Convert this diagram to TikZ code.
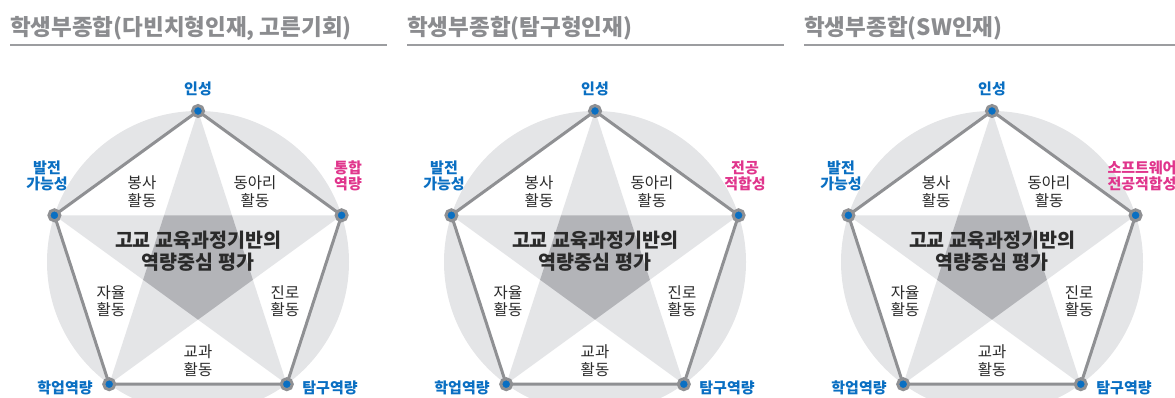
\documentclass[tikz,border=0pt]{standalone}
\usepackage{fontspec}
\setmainfont{Noto Sans CJK KR}
\definecolor{titlegray}{HTML}{8B8C8F}
\definecolor{rulegray}{HTML}{9C9DA0}
\definecolor{ringgray}{HTML}{E4E5E7}
\definecolor{coregray}{HTML}{B3B4B8}
\definecolor{edgegray}{HTML}{8F9093}
\definecolor{dotblue}{HTML}{0A6FC2}
\definecolor{labelpink}{HTML}{E0358C}
\definecolor{textdark}{HTML}{2A2A2A}
\tikzset{
  PanelTitle/.style={anchor=west, inner sep=0pt, text=titlegray, font=\fontsize{22.5}{26}\selectfont\bfseries},
  TitleRule/.style={draw=rulegray, line width=2pt},
  EdgeStyle/.style={draw=edgegray, line width=3pt},
  VertexDot/.style={circle, fill=dotblue, draw=edgegray, line width=3pt, inner sep=0pt, minimum size=11pt},
  CoreText/.style={align=center, text=textdark, font=\fontsize{19.5}{22.5}\selectfont\bfseries},
  ActText/.style={align=center, text=textdark, font=\fontsize{15.5}{17.5}\selectfont},
  SkillBlue/.style={align=center, text=dotblue, font=\fontsize{15}{16.5}\selectfont\bfseries},
  SkillPink/.style={SkillBlue, text=labelpink}
}
\begin{document}
\begin{tikzpicture}[x=1pt, y=-1pt]
\useasboundingbox (0,0) rectangle (1175,398);
\foreach \i/\cx/\ttl/\ra/\rb in {1/198/{다빈치형인재, 고른기회}/통합/역량,
    2/595/탐구형인재/전공/적합성, 3/992/SW인재/소프트웨어/전공적합성}{
  \begin{scope}[xshift=\cx pt]
    % title and rule
    \node[PanelTitle] (title\i) at (-188,28) {학생부종합(\ttl)};
    \coordinate (rl\i) at (-188,45);
    \coordinate (rr\i) at (189,45);
    \draw[TitleRule] (rl\i) -- (rr\i);
    % ring
    \fill[ringgray] (0,262) circle (151pt);
    % outer pentagon
    \coordinate (A\i) at (0,111);
    \coordinate (B\i) at (143.6,215.3);
    \coordinate (C\i) at (88.8,384.2);
    \coordinate (D\i) at (-88.8,384.2);
    \coordinate (E\i) at (-143.6,215.3);
    \fill[white] (A\i) -- (B\i) -- (C\i) -- (D\i) -- (E\i) -- cycle;
    \fill[ringgray] (A\i) -- (D\i) -- (B\i) -- (E\i) -- (C\i) -- cycle;
    % inner pentagon
    \fill[coregray] (33.9,215.3) -- (54.9,279.8) -- (0,319.7)
      -- (-54.9,279.8) -- (-33.9,215.3) -- cycle;
    \draw[EdgeStyle] (A\i) -- (B\i) -- (C\i) -- (D\i) -- (E\i) -- cycle;
    \foreach \v in {A,B,C,D,E}
      \node[VertexDot] (dot\v\i) at (\v\i) {};
    % labels
    \node[SkillBlue] (top\i) at (0,89) {인성};
    \node[SkillBlue] (left\i) at (-151,176) {발전\\가능성};
    \node[SkillPink] (right\i) at (150,176) {\ra\\\rb};
    \node[SkillBlue] (bl\i) at (-133,388) {학업역량};
    \node[SkillBlue] (br\i) at (132,388) {탐구역량};
    \node[ActText] (act1\i) at (-56,191.5) {봉사\\활동};
    \node[ActText] (act2\i) at (57,191.5) {동아리\\활동};
    \node[ActText] (act3\i) at (-87,301) {자율\\활동};
    \node[ActText] (act4\i) at (87,301) {진로\\활동};
    \node[ActText] (act5\i) at (0,360.5) {교과\\활동};
    \node[CoreText] (core\i) at (0,251) {고교 교육과정기반의\\역량중심 평가};
  \end{scope}
}
\end{tikzpicture}
\end{document}
